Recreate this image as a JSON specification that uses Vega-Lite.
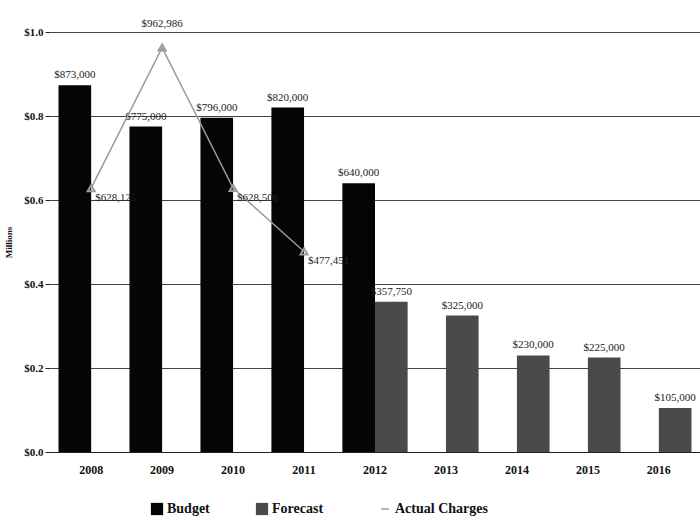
{
  "$schema": "https://vega.github.io/schema/vega-lite/v6.json",
  "autosize": {"type": "none"},
  "width": 650,
  "height": 420,
  "background": "white",
  "padding": {"left": 50, "right": 0, "top": 32, "bottom": 67},
  "config": {
    "font": "Liberation Serif",
    "view": {"stroke": null},
    "axis": {"labelFont": "Liberation Serif", "titleFont": "Liberation Serif", "labelFontWeight": "bold", "labelColor": "#111", "titleColor": "#111"},
    "legend": {"labelFont": "Liberation Serif", "labelFontWeight": "bold", "labelFontSize": 14, "labelColor": "#111"}
  },
  "data": {
    "values": [
      {"year": "2008", "series": "Budget", "value": 873000},
      {"year": "2009", "series": "Budget", "value": 775000},
      {"year": "2010", "series": "Budget", "value": 796000},
      {"year": "2011", "series": "Budget", "value": 820000},
      {"year": "2012", "series": "Budget", "value": 640000},
      {"year": "2012", "series": "Forecast", "value": 357750},
      {"year": "2013", "series": "Forecast", "value": 325000},
      {"year": "2014", "series": "Forecast", "value": 230000},
      {"year": "2015", "series": "Forecast", "value": 225000},
      {"year": "2016", "series": "Forecast", "value": 105000},
      {"year": "2008", "series": "Actual Charges", "value": 628125},
      {"year": "2009", "series": "Actual Charges", "value": 962986},
      {"year": "2010", "series": "Actual Charges", "value": 628506},
      {"year": "2011", "series": "Actual Charges", "value": 477451}
    ]
  },
  "encoding": {
    "x": {
      "field": "year", "type": "nominal",
      "scale": {"paddingInner": 0.08, "paddingOuter": 0.12},
      "axis": {"title": null, "labelAngle": 0, "labelFontSize": 12, "ticks": false, "domain": true, "domainColor": "#222", "labelPadding": 12}
    },
    "y": {
      "field": "value", "type": "quantitative",
      "scale": {"domain": [0, 1000000]},
      "axis": {
        "title": "Millions", "titleFontSize": 9, "titleFontWeight": "bold", "titlePadding": 10,
        "values": [0, 200000, 400000, 600000, 800000, 1000000],
        "labelExpr": "'$' + format(datum.value / 1000000, '.1f')",
        "labelFontSize": 11, "domain": false, "ticks": true, "tickColor": "#222",
        "grid": true, "gridColor": "#444", "gridWidth": 1
      }
    }
  },
  "layer": [
    {
      "transform": [{"filter": "datum.series !== 'Actual Charges'"}],
      "layer": [
        {
          "mark": {"type": "bar"},
          "encoding": {
            "xOffset": {"field": "series", "sort": ["Budget", "Forecast"]},
            "color": {
              "field": "series", "type": "nominal",
              "scale": {"domain": ["Budget", "Forecast"], "range": ["#050505", "#4a4a4a"]},
              "legend": {"orient": "none", "legendX": 100, "legendY": 470, "direction": "horizontal", "title": null, "symbolType": "square", "symbolSize": 150, "columnPadding": 45, "labelOffset": 3}
            }
          }
        },
        {
          "mark": {"type": "text", "dy": -10, "fontSize": 11, "color": "#222"},
          "encoding": {
            "xOffset": {"field": "series", "sort": ["Budget", "Forecast"]},
            "text": {"field": "value", "type": "quantitative", "format": "$,.0f"}
          }
        }
      ]
    },
    {
      "transform": [{"filter": "datum.series === 'Actual Charges'"}],
      "layer": [
        {
          "mark": {"type": "line", "strokeWidth": 1.5, "point": {"shape": "triangle-up", "filled": false, "stroke": "#888", "size": 50}},
          "encoding": {
            "stroke": {
              "field": "series", "type": "nominal",
              "scale": {"domain": ["Actual Charges"], "range": ["#9a9a9a"]},
              "legend": {"orient": "none", "legendX": 328, "legendY": 470, "title": null, "symbolSize": 60, "labelOffset": 3}
            }
          }
        },
        {
          "transform": [{"filter": "datum.year !== '2009'"}],
          "mark": {"type": "text", "align": "left", "dx": 4, "dy": 10, "fontSize": 11, "color": "#222"},
          "encoding": {"text": {"field": "value", "type": "quantitative", "format": "$,.0f"}}
        },
        {
          "transform": [{"filter": "datum.year === '2009'"}],
          "mark": {"type": "text", "align": "center", "dy": -24, "fontSize": 11, "color": "#222"},
          "encoding": {"text": {"field": "value", "type": "quantitative", "format": "$,.0f"}}
        }
      ]
    }
  ]
}
